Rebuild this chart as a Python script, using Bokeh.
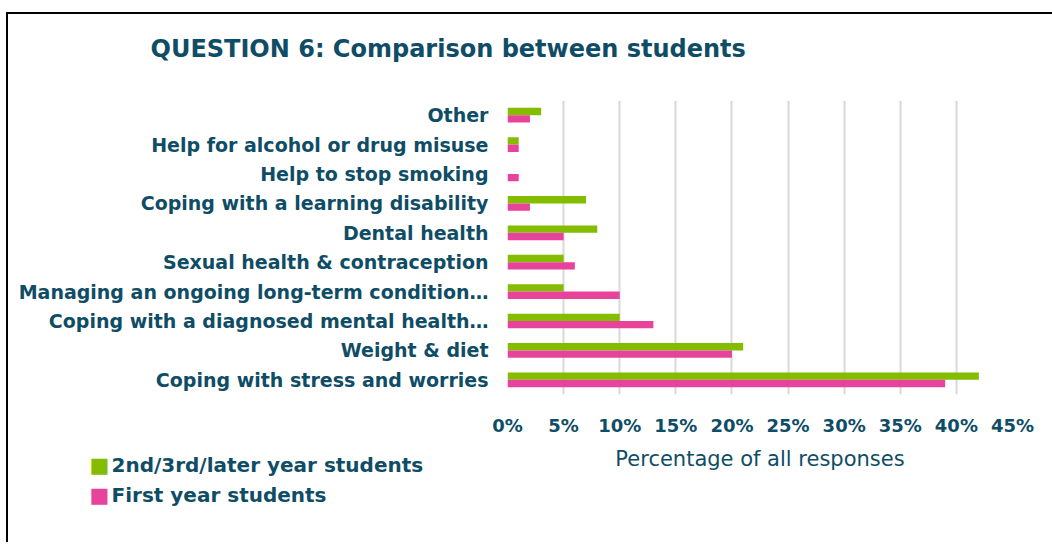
from bokeh.plotting import figure
from bokeh.models import (FactorRange, Range1d, FixedTicker, NumeralTickFormatter,
                          Title, ColumnDataSource)
from bokeh.transform import dodge
from bokeh.embed import file_html
from bokeh.resources import INLINE

categories = [
    "Coping with stress and worries",
    "Weight & diet",
    "Coping with a diagnosed mental health\u2026",
    "Managing an ongoing long-term condition\u2026",
    "Sexual health & contraception",
    "Dental health",
    "Coping with a learning disability",
    "Help to stop smoking",
    "Help for alcohol or drug misuse",
    "Other",
]
later_year = [42, 21, 10, 5, 5, 8, 7, 0, 1, 3]
first_year = [39, 20, 13, 10, 6, 5, 2, 1, 1, 2]
series_names = ["2nd/3rd/later year students", "First year students"]
x_ticks = [0, 5, 10, 15, 20, 25, 30, 35, 40, 45]
x_title = "Percentage of all responses"

TXT = "#0f4d66"
GREEN = "#84bd00"
PINK = "#e8439a"
FONT = "DejaVu Sans"

src = ColumnDataSource(dict(
    cat=categories,
    later=[v / 100 for v in later_year],
    first=[v / 100 for v in first_year],
))

p = figure(
    y_range=FactorRange(*categories, range_padding=0),
    x_range=Range1d(0, x_ticks[-1] / 100),
    frame_width=505, frame_height=294,
    min_border_left=499, min_border_right=40,
    min_border_top=86, min_border_bottom=0,
    output_backend="svg", toolbar_location=None,
)
p.styles = {"border-left": "2px solid #000000", "border-top": "2px solid #000000",
            "margin-left": "6px", "margin-top": "12px"}

p.hbar(y=dodge("cat", 0.125, range=p.y_range), right="later", left=0,
       height=0.25, source=src, fill_color=GREEN, line_color=None)
p.hbar(y=dodge("cat", -0.125, range=p.y_range), right="first", left=0,
       height=0.25, source=src, fill_color=PINK, line_color=None)

p.outline_line_color = None
p.ygrid.grid_line_color = None
p.xgrid.grid_line_color = "#d9d9d9"
p.xgrid.grid_line_width = 2

p.xaxis.ticker = FixedTicker(ticks=[t / 100 for t in x_ticks])
p.xaxis.formatter = NumeralTickFormatter(format="0%")
p.xaxis.axis_line_color = None
p.xaxis.major_tick_line_color = None
p.xaxis.minor_tick_line_color = None
p.xaxis.major_label_standoff = 14
p.xaxis.major_label_text_font = FONT
p.xaxis.major_label_text_font_style = "bold"
p.xaxis.major_label_text_font_size = "18px"
p.xaxis.major_label_text_color = TXT
p.xaxis.axis_label = None

p.yaxis.axis_line_color = None
p.yaxis.major_tick_line_color = None
p.yaxis.minor_tick_line_color = None
p.yaxis.major_tick_out = 0
p.yaxis.major_label_standoff = 19
p.yaxis.major_label_text_font = FONT
p.yaxis.major_label_text_font_style = "bold"
p.yaxis.major_label_text_font_size = "19px"
p.yaxis.major_label_text_color = TXT

# main title (outermost slot of the top panel)
p.title.text = "QUESTION 6: Comparison between students"
p.title.align = "left"
p.title.offset = -357
p.title.standoff = 0
p.title.text_font = FONT
p.title.text_font_style = "bold"
p.title.text_font_size = "24px"
p.title.text_color = TXT

# spacer between the title and the plot area
p.add_layout(Title(text=" ", text_font_size="20px", standoff=14), "above")


def spacer(height, size=19):
    h = round(size * 1.3)
    p.add_layout(Title(text=" ", text_font=FONT, text_font_size=f"{size}px",
                       standoff=height - h), "below")


def zero_slot_title(text, size, **kw):
    h = round(size * 1.3)
    p.add_layout(Title(text=text, text_font=FONT, text_font_size=f"{size}px",
                       standoff=-h, **kw), "below")


# x axis title, centred under the plot area
spacer(20)
zero_slot_title(x_title, 21, align="center", text_color=TXT, text_font_style="normal")

# legend rows (square marker + label)
legend_colors = [GREEN, PINK]
row_offsets = [7, 31]
for name, col, gap in zip(series_names, legend_colors, row_offsets):
    spacer(gap)
    zero_slot_title("\u25a0", 21, align="left", offset=-418, text_color=col,
                    text_font_style="normal")
    zero_slot_title(name, 20, align="left", offset=-396, text_color=TXT,
                    text_font_style="bold")

# spacer under the legend so the frame line runs down the page
spacer(50)

open("out.html", "w").write(file_html(p, INLINE))
